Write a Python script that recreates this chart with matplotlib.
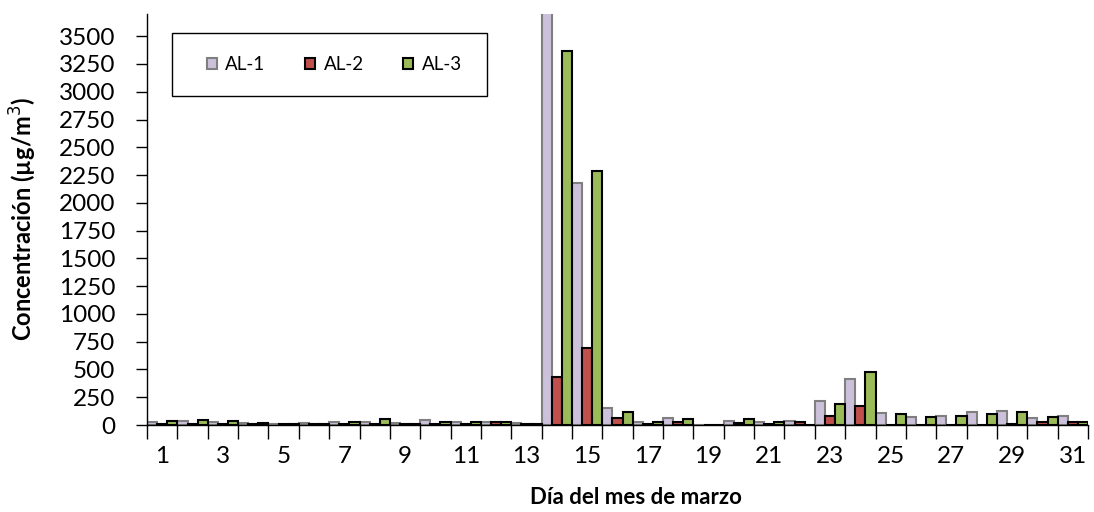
import numpy as np
import matplotlib
matplotlib.use("Agg")
import matplotlib.pyplot as plt
from matplotlib.patches import Rectangle

plt.rcParams['font.family'] = ['Lato', 'DejaVu Sans']

# dias del mes de marzo
dias = list(range(1, 32))

# concentraciones (ug/m3)
al1 = [30, 40, 30, 20, 8, 15, 30, 25, 15, 45, 30, 25, 20, 3800, 2180, 150,
       25, 60, 0, 40, 30, 35, 215, 415, 105, 70, 80, 115, 125, 60, 80]
al2 = [8, 10, 10, 8, 5, 5, 10, 10, 5, 10, 10, 25, 10, 435, 695, 60,
       5, 25, 0, 20, 8, 30, 80, 170, 0, 0, 0, 0, 5, 25, 25]
al3 = [40, 48, 40, 20, 8, 8, 25, 50, 10, 25, 25, 25, 10, 3365, 2290, 115,
       25, 50, 0, 50, 30, 0, 185, 475, 95, 70, 78, 100, 115, 70, 25]

series = [("AL-1", al1, "#ccc1da", "#7f7f7f"),
          ("AL-2", al2, "#c0504d", "black"),
          ("AL-3", al3, "#9bbb59", "black")]

fig = plt.figure(figsize=(10.94, 5.12), dpi=100)
ax = fig.add_axes([0.1344, 0.1699, 0.8601, 0.8028])

w = 1 / 3
x = np.arange(len(dias))
for k, (name, vals, fc, ec) in enumerate(series):
    ax.bar(x + k * w, vals, width=w, align='edge', color=fc,
           edgecolor=ec, linewidth=1.5, label=name)

ax.set_xlim(0, len(dias))
ax.set_ylim(0, 3700)
ax.set_yticks(np.arange(0, 3501, 250))
ax.tick_params(axis='y', labelsize=17.5, direction='out', length=8, width=1, pad=15)

# ticks at category boundaries, labels on odd days
ax.set_xticks(np.arange(0, len(dias) + 1), minor=False)
ax.set_xticklabels([])
ax.set_xticks(x[::2] + 0.5, minor=True)
ax.set_xticklabels([str(d) for d in dias[::2]], minor=True, fontsize=17.5)
ax.tick_params(axis='x', which='major', direction='out', length=10, width=1)
ax.tick_params(axis='x', which='minor', length=0, pad=15)

for s in ['top', 'right']:
    ax.spines[s].set_visible(False)
for s in ['left', 'bottom']:
    ax.spines[s].set_linewidth(1)

ax.set_xlabel("Día del mes de marzo", fontsize=16, fontweight='bold', va='top')
ax.xaxis.set_label_coords(0.52, -0.15)
ax.set_ylabel("Concentración (µg/m$^3$)", fontsize=17, fontweight='bold')
ax.yaxis.set_label_coords(-0.115, 0.5)

# legend box
ax.add_patch(Rectangle((0.0266, 0.8005), 0.3347, 0.1535, transform=ax.transAxes,
                       facecolor='white', edgecolor='black', linewidth=1, zorder=5))
leg = ax.legend(loc='center', ncol=3, bbox_to_anchor=(0.199, 0.877),
                fontsize=13.5, frameon=False, handlelength=0.55, handleheight=0.55,
                handletextpad=0.45, columnspacing=2.1, borderaxespad=0)
leg.set_zorder(6)

fig.savefig("out.png", dpi=100)
